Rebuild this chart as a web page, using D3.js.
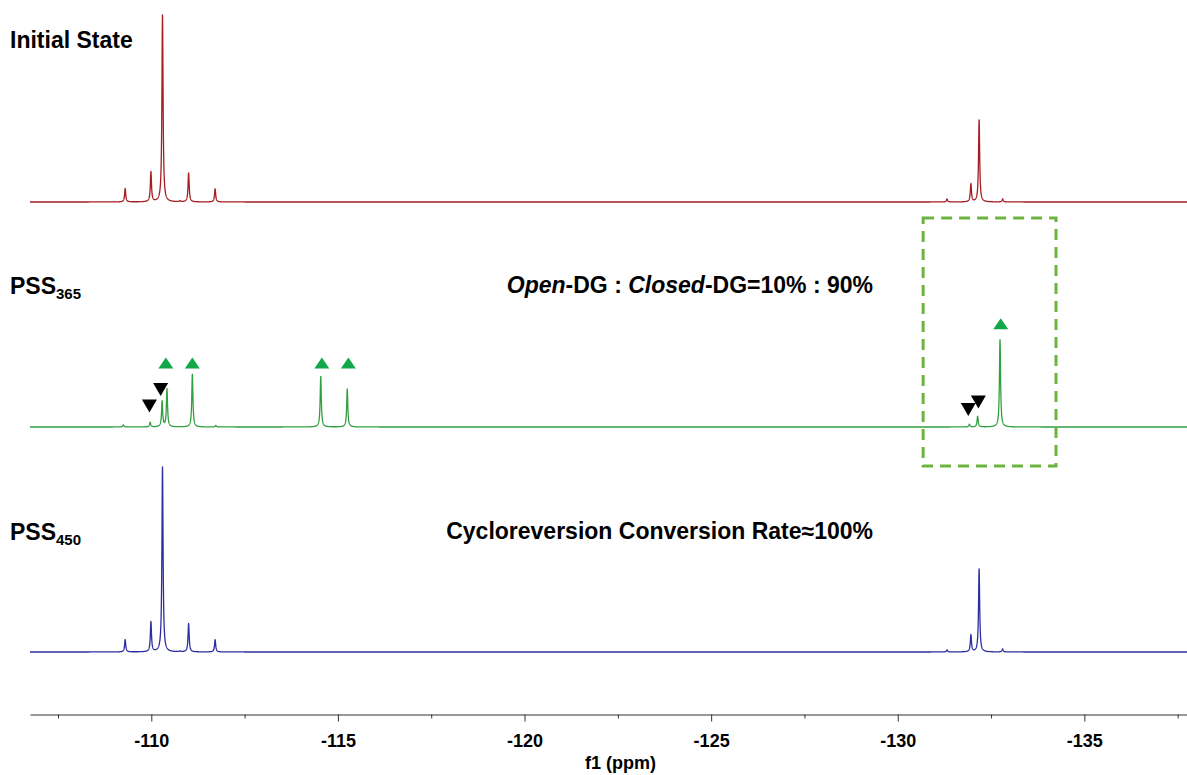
<!DOCTYPE html>
<html>
<head>
<meta charset="utf-8">
<script src="https://cdn.jsdelivr.net/npm/d3@7"></script>
<style>
  body { margin: 0; background: #fff; }
  svg { display: block; }
  text { font-family: "Liberation Sans", Arial, sans-serif; font-weight: bold; fill: #000; }
</style>
</head>
<body>
<svg id="chart" width="1187" height="775"></svg>
<script>
// 19F NMR peak lists (chemical shift in ppm, intensity in a.u.)
const spectra = ["initial", "pss365", "pss450"];

const initialShifts  = [-109.30, -109.99, -110.30, -110.77, -111.00, -111.71, -131.32, -131.96, -132.18, -132.81];
const initialHeights = [7.2, 16.0, 100.0, 0.5, 15.5, 7.0, 1.6, 9.6, 43.9, 1.6];

const pss365Shifts  = [-109.25, -109.97, -110.29, -110.42, -111.10, -111.73, -114.54, -115.25, -131.92, -132.14, -132.74];
const pss365Heights = [1.1, 2.5, 13.7, 20.3, 28.3, 0.8, 27.1, 20.3, 1.4, 5.7, 46.7];

const pss450Shifts  = [-109.30, -109.99, -110.30, -110.77, -111.00, -111.71, -131.32, -131.96, -132.18, -132.81];
const pss450Heights = [6.6, 16.0, 98.9, 0.4, 15.2, 6.6, 1.1, 9.1, 44.4, 1.6];

// peak markers on the PSS365 trace
const closedMarkShifts = [-110.39, -111.10, -114.57, -115.28, -132.76];
const closedMarkLevels = [34.2, 34.2, 34.2, 34.2, 55.2];
const openMarkShifts = [-109.95, -110.25, -131.89, -132.16];
const openMarkLevels = [11.2, 20.1, 9.3, 13.4];

// highlighted region on the PSS365 trace
const boxShifts = [-130.68, -134.24];
const boxLevels = [111.8, -20.9];

const majorTicks = [-110, -115, -120, -125, -130, -135];
const minorTicks = [-107.5, -112.5, -117.5, -122.5, -127.5, -132.5, -137.5];

const peakLists = {
  initial: { shifts: initialShifts, heights: initialHeights, color: "#a31d22" },
  pss365:  { shifts: pss365Shifts,  heights: pss365Heights,  color: "#32a040" },
  pss450:  { shifts: pss450Shifts,  heights: pss450Heights,  color: "#2e2ea0" }
};

const svg = d3.select("#chart");

const x = d3.scaleLinear().domain([-106.75, -137.75]).range([30, 1187]);
const baseline = d3.scalePoint().domain(spectra).range([202, 652]);
const amp = d3.scaleLinear().domain([0, 100]).range([0, -187]);

// Lorentzian line shape summed over the peak list
const hwhm = 0.018;
function trace(list) {
  const pts = [];
  const step = 0.003;
  const grid = d3.range(x.domain()[0], x.domain()[1] - step, -step).concat(list.shifts);
  grid.sort((a, b) => b - a);
  for (const s of grid) {
    let v = 0;
    for (let i = 0; i < list.shifts.length; i++) {
      const d = s - list.shifts[i];
      v += list.heights[i] * hwhm * hwhm / (d * d + hwhm * hwhm);
    }
    pts.push([s, v]);
  }
  return pts;
}

spectra.forEach(name => {
  const list = peakLists[name];
  const y0 = baseline(name);
  const line = d3.line().x(d => x(d[0])).y(d => y0 + amp(d[1]));
  svg.append("path")
    .datum(trace(list))
    .attr("fill", "none")
    .attr("stroke", list.color)
    .attr("stroke-width", 1.3)
    .attr("stroke-linejoin", "round")
    .attr("d", line);
});

// dashed highlight box
const y365 = baseline("pss365");
svg.append("rect")
  .attr("x", x(boxShifts[0]))
  .attr("y", y365 + amp(boxLevels[0]))
  .attr("width", x(boxShifts[1]) - x(boxShifts[0]))
  .attr("height", amp(boxLevels[1]) - amp(boxLevels[0]))
  .attr("fill", "none")
  .attr("stroke", "#6cb33f")
  .attr("stroke-width", 3)
  .attr("stroke-dasharray", "11,7");

// triangle markers
const upTri = "M0,-5.5L7.5,5.5L-7.5,5.5Z";
const downTri = "M-7.5,-6.5L7.5,-6.5L0,6.5Z";
svg.append("g").selectAll("path")
  .data(d3.zip(closedMarkShifts, closedMarkLevels))
  .join("path")
  .attr("d", upTri)
  .attr("fill", "#12a84a")
  .attr("transform", d => `translate(${x(d[0])},${y365 + amp(d[1])})`);
svg.append("g").selectAll("path")
  .data(d3.zip(openMarkShifts, openMarkLevels))
  .join("path")
  .attr("d", downTri)
  .attr("fill", "#000")
  .attr("transform", d => `translate(${x(d[0])},${y365 + amp(d[1])})`);

// trace labels
svg.append("text").attr("x", 10).attr("y", 48).attr("font-size", 23).text("Initial State");

function pssLabel(y, sub) {
  const t = svg.append("text").attr("x", 10).attr("y", y).attr("font-size", 23);
  t.append("tspan").text("PSS");
  t.append("tspan").attr("font-size", 15).attr("dy", 5).text(sub);
}
pssLabel(294, "365");
pssLabel(540, "450");

const ratio = svg.append("text").attr("x", 873).attr("y", 293).attr("font-size", 23).attr("text-anchor", "end");
ratio.append("tspan").attr("font-style", "italic").text("Open");
ratio.append("tspan").text("-DG : ");
ratio.append("tspan").attr("font-style", "italic").text("Closed");
ratio.append("tspan").text("-DG=10% : 90%");

svg.append("text").attr("x", 873).attr("y", 539).attr("font-size", 23).attr("text-anchor", "end")
  .text("Cycloreversion Conversion Rate\u2248100%");

// ppm axis
const axisY = 714.5;
const gMinor = svg.append("g").attr("transform", `translate(0,${axisY})`)
  .call(d3.axisBottom(x).tickValues(minorTicks).tickSize(4).tickSizeOuter(0).tickFormat(""));
const gMajor = svg.append("g").attr("transform", `translate(0,${axisY})`)
  .call(d3.axisBottom(x).tickValues(majorTicks).tickSize(7).tickSizeOuter(0).tickPadding(13)
    .tickFormat(d => String(d)));
gMinor.select(".domain").remove();
svg.selectAll(".domain").attr("stroke", "#333").attr("stroke-width", 1.2);
svg.selectAll(".tick line").attr("stroke", "#333");
gMajor.selectAll(".tick text")
  .attr("font-size", 18)
  .attr("font-family", "\"Liberation Sans\", Arial, sans-serif")
  .attr("font-weight", "bold")
  .attr("fill", "#000");

svg.append("text").attr("x", (x.range()[0] + x.range()[1]) / 2 + 12).attr("y", 769)
  .attr("font-size", 18).attr("text-anchor", "middle").text("f1 (ppm)");
</script>
</body>
</html>
